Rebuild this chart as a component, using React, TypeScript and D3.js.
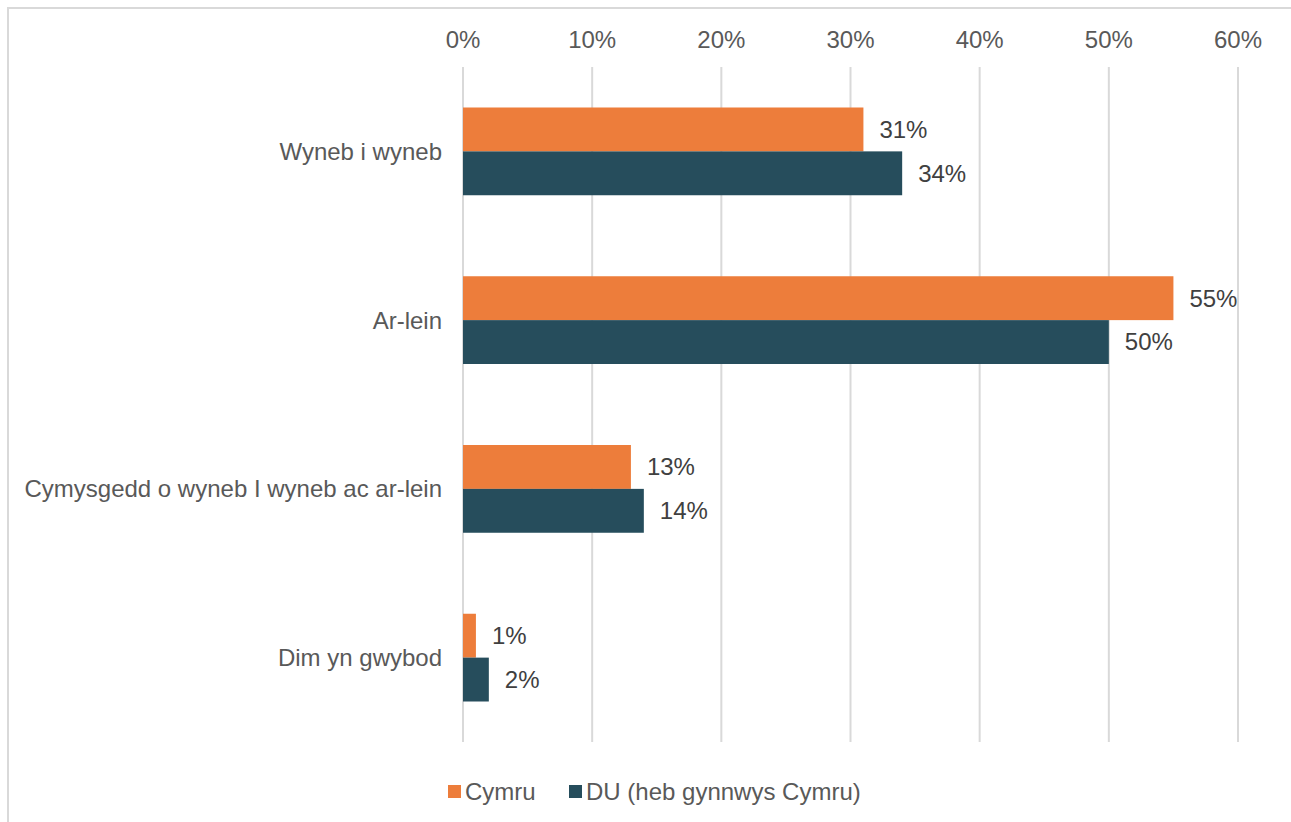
import React, { useRef, useEffect } from 'react';
import * as d3 from 'd3';

const categories = ['Wyneb i wyneb', 'Ar-lein', 'Cymysgedd o wyneb I wyneb ac ar-lein', 'Dim yn gwybod'];
const seriesNames = ['Cymru', 'DU (heb gynnwys Cymru)'];
const cymru = [31, 55, 13, 1];
const du = [34, 50, 14, 2];
const ticks = [0, 10, 20, 30, 40, 50, 60];
const colors = ['#ED7D3B', '#264D5C'];

export default function App() {
  const svgRef = useRef<SVGSVGElement>(null);

  useEffect(() => {
    const width = 1291;
    const height = 822;
    const margin = { top: 67, bottom: 80, left: 463, right: 53 };
    const font = '"Liberation Sans", Arial, sans-serif';
    const fontSize = 24;
    const textColor = '#595959';

    const svg = d3.select(svgRef.current);
    svg.selectAll('*').remove();

    // outer border of the chart area
    svg.append('rect')
      .attr('x', 8).attr('y', 8)
      .attr('width', width + 10).attr('height', height + 10)
      .attr('fill', 'white')
      .attr('stroke', '#d9d9d9')
      .attr('stroke-width', 2);

    const xScale = d3.scaleLinear()
      .domain([0, 60])
      .range([margin.left, width - margin.right]);

    const yScale = d3.scaleBand()
      .domain(categories)
      .range([margin.top, height - margin.bottom])
      .paddingInner(0.48)
      .paddingOuter(0.24);

    const inner = d3.scaleBand()
      .domain(seriesNames)
      .range([0, yScale.bandwidth()]);

    // gridlines
    svg.append('g')
      .selectAll('line')
      .data(ticks)
      .join('line')
      .attr('x1', d => xScale(d)).attr('x2', d => xScale(d))
      .attr('y1', margin.top).attr('y2', height - margin.bottom)
      .attr('stroke', '#d9d9d9')
      .attr('stroke-width', 2);

    // tick labels on top
    svg.append('g')
      .selectAll('text')
      .data(ticks)
      .join('text')
      .attr('x', d => xScale(d))
      .attr('y', 40)
      .attr('dy', '0.35em')
      .attr('text-anchor', 'middle')
      .attr('font-family', font)
      .attr('font-size', fontSize)
      .attr('fill', textColor)
      .text(d => d + '%');

    const series = [cymru, du];
    series.forEach((values, si) => {
      const g = svg.append('g');
      g.selectAll('rect')
        .data(values)
        .join('rect')
        .attr('x', xScale(0))
        .attr('y', (d, i) => (yScale(categories[i]) as number) + (inner(seriesNames[si]) as number))
        .attr('width', d => xScale(d) - xScale(0))
        .attr('height', inner.bandwidth())
        .attr('fill', colors[si]);

      g.selectAll('text')
        .data(values)
        .join('text')
        .attr('x', d => xScale(d) + 16)
        .attr('y', (d, i) => (yScale(categories[i]) as number) + (inner(seriesNames[si]) as number) + inner.bandwidth() / 2)
        .attr('dy', '0.35em')
        .attr('font-family', font)
        .attr('font-size', fontSize)
        .attr('fill', '#404040')
        .text(d => d + '%');
    });

    // category labels
    svg.append('g')
      .selectAll('text')
      .data(categories)
      .join('text')
      .attr('x', 442)
      .attr('y', d => (yScale(d) as number) + yScale.bandwidth() / 2)
      .attr('dy', '0.35em')
      .attr('text-anchor', 'end')
      .attr('font-family', font)
      .attr('font-size', fontSize)
      .attr('fill', textColor)
      .text(d => d);

    // legend
    const legendX = [448, 569];
    const legend = svg.append('g');
    seriesNames.forEach((name, i) => {
      legend.append('rect')
        .attr('x', legendX[i]).attr('y', 785)
        .attr('width', 13).attr('height', 13)
        .attr('fill', colors[i]);
      legend.append('text')
        .attr('x', legendX[i] + 17)
        .attr('y', 792)
        .attr('dy', '0.35em')
        .attr('font-family', font)
        .attr('font-size', fontSize)
        .attr('fill', textColor)
        .text(name);
    });
  }, []);

  return (
    <svg ref={svgRef} width={1291} height={822}
      style={{ position: 'absolute', left: 0, top: 0 }} />
  );
}
